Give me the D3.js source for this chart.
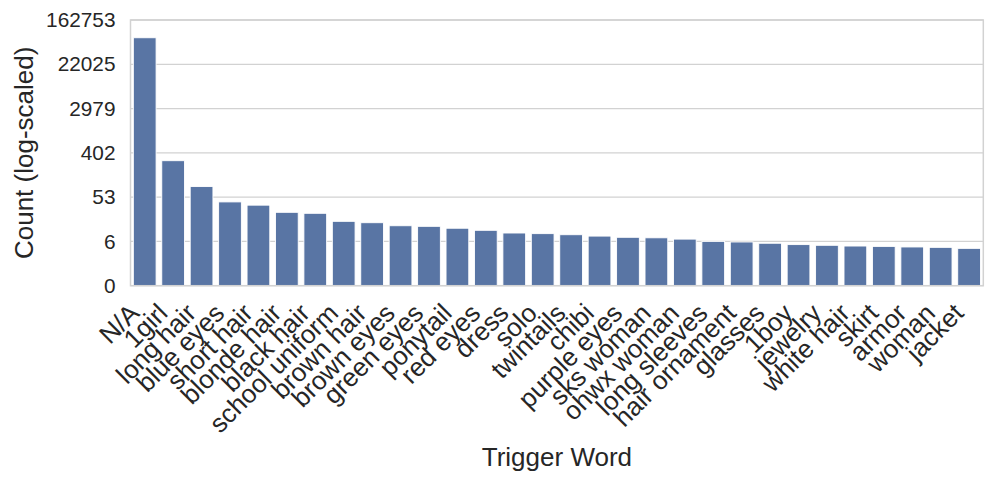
<!DOCTYPE html>
<html>
<head>
<meta charset="utf-8">
<script src="https://cdn.jsdelivr.net/npm/d3@7"></script>
<style>
  body { margin: 0; background: #fff; }
  text { font-family: "Liberation Sans", Arial, sans-serif; fill: #262626; }
</style>
</head>
<body>
<div id="chart"></div>
<script>
// trigger words, sorted by count
const words = ["N/A", "1girl", "long hair", "blue eyes", "short hair", "blonde hair",
  "black hair", "school uniform", "brown hair", "brown eyes", "green eyes", "ponytail",
  "red eyes", "dress", "solo", "twintails", "chibi", "purple eyes", "sks woman",
  "ohwx woman", "long sleeves", "hair ornament", "glasses", "1boy", "jewelry",
  "white hair", "skirt", "armor", "woman", "jacket"];

// counts
const counts = [73000, 282, 87, 43, 37, 26.5, 25.3, 17.3, 16.2, 14.0, 13.6, 12.4,
  11.2, 9.8, 9.5, 9.0, 8.4, 7.9, 7.7, 7.2, 6.4, 6.2, 5.8, 5.4, 5.2, 5.0, 4.9, 4.75,
  4.65, 4.4];

// axis ticks sit at log1p(count) = 0, 2, ... 12
const yTickLevels = [0, 2, 4, 6, 8, 10, 12];
const yTickLabels = ["0", "6", "53", "402", "2979", "22025", "162753"];

const width = 996, height = 485;
const margin = {left: 130.5, right: 12.7, top: 20, bottom: 199.3};

const svg = d3.select("#chart").append("svg")
  .attr("width", width)
  .attr("height", height);

const x = d3.scaleBand()
  .domain(words)
  .range([margin.left, width - margin.right])
  .paddingInner(0.2)
  .paddingOuter(0.1);

// log1p scale == symlog with constant 1
const y = d3.scaleSymlog()
  .constant(1)
  .domain([0, Math.expm1(12)])
  .range([height - margin.bottom, margin.top]);

const gridColor = "#d2d2d2";

// horizontal grid
svg.append("g").attr("class", "grid")
  .selectAll("line")
  .data(yTickLevels)
  .join("line")
    .attr("x1", margin.left)
    .attr("x2", width - margin.right)
    .attr("y1", d => y(Math.expm1(d)))
    .attr("y2", d => y(Math.expm1(d)))
    .attr("stroke", gridColor)
    .attr("stroke-width", 1.3);

// bars
svg.append("g").attr("class", "bars")
  .selectAll("rect")
  .data(words)
  .join("rect")
    .attr("x", d => x(d))
    .attr("width", x.bandwidth())
    .attr("y", (d, i) => y(counts[i]))
    .attr("height", (d, i) => y(0) - y(counts[i]))
    .attr("fill", "#5975a4")
    .attr("stroke", "#fff")
    .attr("stroke-width", 0.9);

// frame
svg.append("rect")
  .attr("x", margin.left)
  .attr("y", margin.top)
  .attr("width", width - margin.right - margin.left)
  .attr("height", height - margin.bottom - margin.top)
  .attr("fill", "none")
  .attr("stroke", gridColor)
  .attr("stroke-width", 1.5);

// y axis
const yAxis = d3.axisLeft(y)
  .tickValues(yTickLevels.map(l => Math.expm1(l)))
  .tickFormat((d, i) => yTickLabels[i])
  .tickSize(0)
  .tickPadding(15);

svg.append("g")
  .attr("transform", `translate(${margin.left},0)`)
  .call(yAxis)
  .call(g => g.select(".domain").remove())
  .selectAll("text")
    .style("font-size", "20.8px")
    .attr("fill", "#262626");

// x axis, labels turned 45 degrees
const xAxis = d3.axisBottom(x).tickSize(0).tickPadding(0);
svg.append("g")
  .attr("transform", `translate(0,${height - margin.bottom})`)
  .call(xAxis)
  .call(g => g.select(".domain").remove())
  .selectAll("text")
    .style("font-size", "26px")
    .attr("fill", "#262626")
    .attr("text-anchor", "end")
    .attr("dy", 0)
    .attr("y", 0)
    .attr("transform", "translate(-4,29) rotate(-45)");

// axis titles
svg.append("text")
  .attr("x", (margin.left + width - margin.right) / 2)
  .attr("y", 466)
  .attr("text-anchor", "middle")
  .style("font-size", "26px")
  .text("Trigger Word");

svg.append("text")
  .attr("transform", `translate(33,${(margin.top + height - margin.bottom) / 2}) rotate(-90)`)
  .attr("text-anchor", "middle")
  .style("font-size", "26px")
  .text("Count (log-scaled)");
</script>
</body>
</html>
